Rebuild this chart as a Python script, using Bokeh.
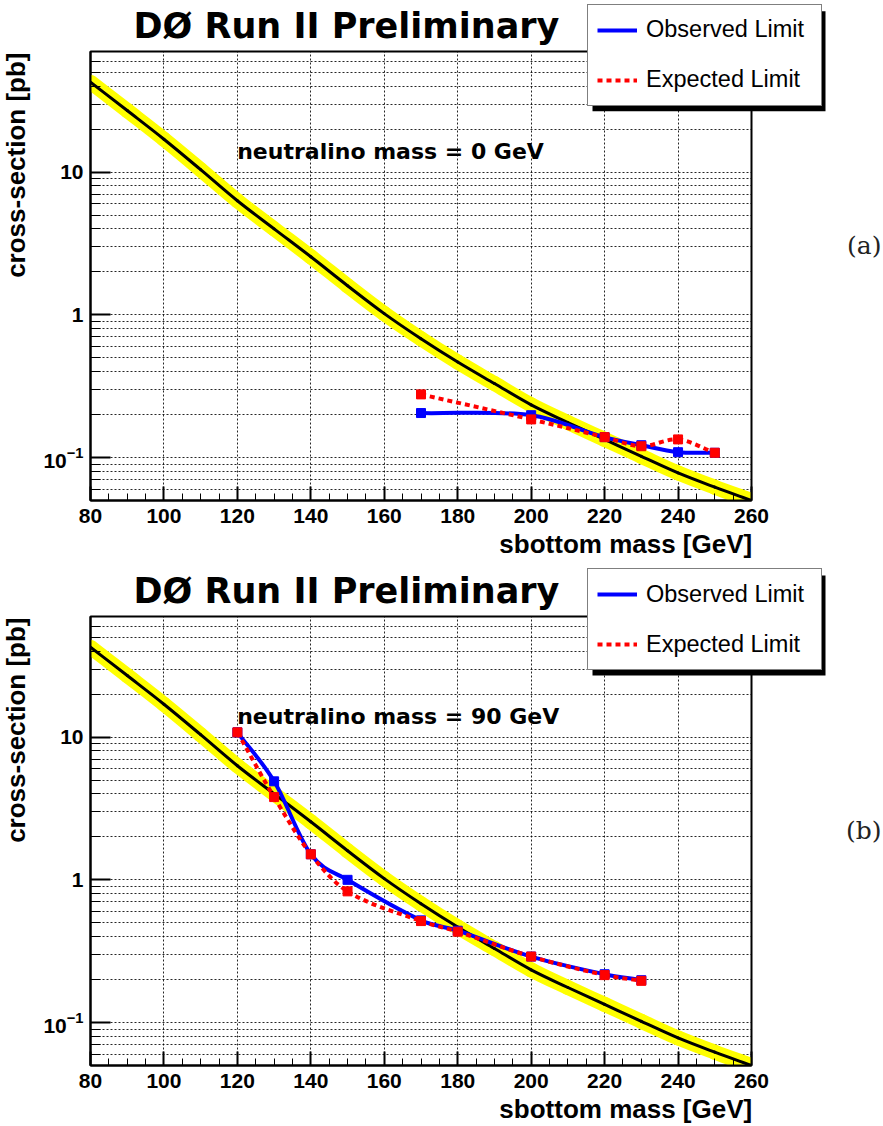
import numpy as np
from bokeh.plotting import figure
from bokeh.layouts import column
from bokeh.models import (FixedTicker, LogTickFormatter, Legend, LegendItem,
                          Label, Range1d, ColumnDataSource, BoxAnnotation)
from bokeh.embed import file_html
from bokeh.resources import INLINE

# ---------------- data ----------------
theory_mass = [80, 90, 100, 110, 120, 130, 140, 150, 160, 170, 180,
               190, 200, 210, 220, 230, 240, 250, 260]
theory_xsec = [42.7, 27.0, 17.0, 10.4, 6.3, 4.0, 2.55, 1.6, 1.02, 0.68, 0.467,
               0.33, 0.234, 0.176, 0.134, 0.102, 0.078, 0.062, 0.050]

mass_a = [170, 200, 220, 230, 240, 250]
obs_a = [0.205, 0.198, 0.139, 0.122, 0.109, 0.108]
exp_a = [0.277, 0.185, 0.139, 0.120, 0.134, 0.108]

mass_b = [120, 130, 140, 150, 170, 180, 200, 220, 230]
obs_b = [10.8, 4.9, 1.51, 1.0, 0.52, 0.44, 0.29, 0.218, 0.198]
exp_b = [10.8, 3.8, 1.51, 0.83, 0.514, 0.433, 0.29, 0.215, 0.196]

x_major = [80, 100, 120, 140, 160, 180, 200, 220, 240, 260]
x_minor = list(range(80, 261, 5))
y_major = [0.1, 1, 10]
y_minor = [0.05, 0.06, 0.07, 0.08, 0.09, 0.2, 0.3, 0.4, 0.5, 0.6, 0.7, 0.8, 0.9,
           2, 3, 4, 5, 6, 7, 8, 9, 20, 30, 40, 50, 60, 70]
y_label_overrides = {1: "1", 10: "10"}

panel_titles = ["DØ Run II Preliminary", "DØ Run II Preliminary"]
neutralino_texts = ["neutralino mass = 0 GeV", "neutralino mass = 90 GeV"]
panel_tags = ["(a)", "(b)"]
legend_labels = ["Observed Limit", "Expected Limit"]
x_title = "sbottom mass [GeV]"
y_title = "cross-section [pb]"

BLUE = "#0000FF"
RED = "#FF0000"
YELLOW = "#FFFF00"
FRAME_H = 449
PAGE_W, PAGE_H = 883, 1126
BASE_FIX = 0.37  # empirical shift (in em) of the alphabetic baseline
LEG_W, LEG_H = 233, 100


def smooth(xs, ys):
    """Cubic Hermite (bezier) segments through the points, in log-y space."""
    lx = np.array(xs, float)
    ly = np.log10(np.array(ys, float))
    n = len(lx)
    m = np.zeros(n)
    for i in range(n):
        if i == 0:
            m[i] = (ly[1] - ly[0]) / (lx[1] - lx[0])
        elif i == n - 1:
            m[i] = (ly[-1] - ly[-2]) / (lx[-1] - lx[-2])
        else:
            m[i] = (ly[i + 1] - ly[i - 1]) / (lx[i + 1] - lx[i - 1])
    h = np.diff(lx)
    return ColumnDataSource(dict(
        x0=lx[:-1], y0=10 ** ly[:-1], x1=lx[1:], y1=10 ** ly[1:],
        cx0=lx[:-1] + h / 3, cy0=10 ** (ly[:-1] + m[:-1] * h / 3),
        cx1=lx[1:] - h / 3, cy1=10 ** (ly[1:] - m[1:] * h / 3)))


BEZ = dict(x0="x0", y0="y0", x1="x1", y1="y1", cx0="cx0", cy0="cy0",
           cx1="cx1", cy1="cy1")


def make_panel(mass, obs, exp, idx, top, bottom):
    p = figure(width=PAGE_W, height=top + FRAME_H + bottom,
               x_range=Range1d(80, 260), y_range=Range1d(0.05, 70),
               y_axis_type="log", toolbar_location=None, output_backend="svg",
               min_border_left=90, min_border_right=132,
               min_border_top=top, min_border_bottom=bottom)
    p.background_fill_color = "white"
    p.border_fill_color = "white"
    p.outline_line_color = "black"
    p.outline_line_width = 2

    p.xaxis.ticker = FixedTicker(ticks=x_major, minor_ticks=x_minor)
    p.yaxis.ticker = FixedTicker(ticks=y_major, minor_ticks=y_minor)
    p.yaxis.formatter = LogTickFormatter()
    p.yaxis.major_label_overrides = y_label_overrides
    for ax in (p.xaxis[0], p.yaxis[0]):
        ax.axis_line_color = "black"
        ax.axis_line_width = 2
        ax.major_tick_line_color = "black"
        ax.minor_tick_line_color = "black"
        ax.major_tick_line_width = 2
        ax.minor_tick_line_width = 1
        ax.major_tick_out = 0
        ax.minor_tick_out = 0
        ax.major_label_text_font = "Liberation Sans"
        ax.major_label_text_font_style = "bold"
        ax.major_label_text_font_size = "21px"
        ax.major_label_text_color = "black"
    p.xaxis.major_tick_in = 14
    p.xaxis.minor_tick_in = 7
    p.yaxis.major_tick_in = 20
    p.yaxis.minor_tick_in = 10
    p.xaxis.major_label_standoff = 8
    p.yaxis.major_label_standoff = 7

    for g in (p.xgrid, p.ygrid):
        g.grid_line_color = "black"
        g.grid_line_dash = "2 2"
        g.grid_line_alpha = 0.85
    p.ygrid.minor_grid_line_color = "black"
    p.ygrid.minor_grid_line_dash = "2 2"
    p.ygrid.minor_grid_line_alpha = 0.85

    th = smooth(theory_mass, theory_xsec)
    p.bezier(source=th, line_color=YELLOW, line_width=15, line_cap="round", **BEZ)
    p.bezier(source=th, line_color="black", line_width=3, line_cap="round", **BEZ)

    p.bezier(source=smooth(mass, obs), line_color=BLUE, line_width=4, **BEZ)
    p.scatter(mass, obs, marker="square", size=9, fill_color=BLUE, line_color=BLUE)
    p.bezier(source=smooth(mass, exp), line_color=RED, line_width=4,
             line_dash="5 4", **BEZ)
    p.scatter(mass, exp, marker="square", size=9, fill_color=RED, line_color=RED)

    p.add_layout(Label(x=146.7, y=FRAME_H - 108.5 + BASE_FIX * 22, x_units="screen",
                       y_units="screen", text=neutralino_texts[idx],
                       text_font="DejaVu Sans", text_font_style="bold",
                       text_font_size="22px", text_color="black",
                       text_baseline="alphabetic", text_align="left"))
    return p


p1 = make_panel(mass_a, obs_a, exp_a, 0, 51, 63)
p2 = make_panel(mass_b, obs_b, exp_b, 1, 53, 61)

# ---------- transparent overlay carrying the texts outside the frames ----------
ov = figure(width=PAGE_W, height=PAGE_H, x_range=Range1d(0, PAGE_W),
            y_range=Range1d(PAGE_H, 0), toolbar_location=None,
            output_backend="svg", min_border=0, x_axis_location=None,
            y_axis_location=None, margin=(-PAGE_H, 0, 0, 0))
ov.frame_align = False
ov.grid.visible = False
ov.outline_line_color = None
ov.background_fill_alpha = 0
ov.border_fill_alpha = 0

# legend proxies (kept outside the visible range of the overlay)
r_obs = ov.line(x=[-20, -10], y=[-20, -20], line_color=BLUE, line_width=4)
r_exp = ov.line(x=[-20, -10], y=[-20, -20], line_color=RED, line_width=4,
                line_dash="5 4")


def legend(left, top):
    # drop shadow
    ov.add_layout(BoxAnnotation(left=left + 5, right=left + 5 + LEG_W,
                                top=top + 5, bottom=top + 5 + LEG_H,
                                fill_color="black", fill_alpha=1,
                                line_color=None))
    items = [LegendItem(label=legend_labels[0], renderers=[r_obs]),
             LegendItem(label=legend_labels[1], renderers=[r_exp])]
    ov.add_layout(Legend(items=items, location=(left, PAGE_H - top - LEG_H),
                         orientation="vertical", padding=9, spacing=18,
                         margin=0, glyph_width=40, glyph_height=32,
                         label_height=32, label_width=166, label_standoff=9,
                         label_text_font="Liberation Sans",
                         label_text_font_size="23.5px",
                         label_text_color="black", border_line_color="black",
                         border_line_width=1, background_fill_color="white",
                         background_fill_alpha=1), "center")


def txt(x, y, text, font, size, align, bold=True, angle=0.0, color="black"):
    fix = BASE_FIX * size
    if angle:
        x = x - fix
    else:
        y = y - fix
    ov.add_layout(Label(x=x, y=y, text=text, text_font=font,
                        text_font_style="bold" if bold else "normal",
                        text_font_size=f"{size}px", text_color=color,
                        text_baseline="alphabetic", text_align=align,
                        angle=angle))


for k, (dy, leg_top, tag_base) in enumerate([(0, 5.7, 256.7), (565, 570, 841.7)]):
    legend(587, leg_top)
    txt(133, 38.3 + dy, panel_titles[k], "DejaVu Sans", 35, "left")
    txt(751.7, 553 + dy, x_title, "Liberation Sans", 26, "right")
    txt(25.5, 52 + dy, y_title, "Liberation Sans", 26, "right",
        angle=np.pi / 2)
    txt(881, tag_base - 2, panel_tags[k], "DejaVu Serif", 25, "right",
        bold=False, color="#222222")

layout = column(p1, p2, ov, spacing=0)
open("out.html", "w").write(file_html(layout, INLINE))
